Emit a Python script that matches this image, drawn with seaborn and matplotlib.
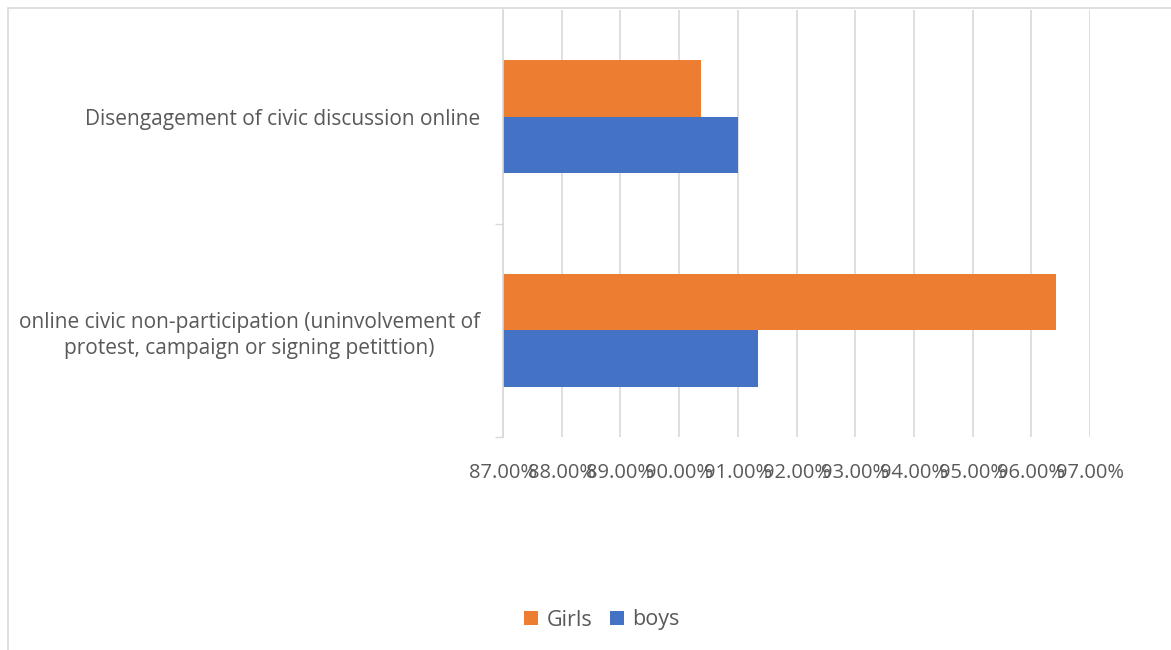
import matplotlib
matplotlib.use("Agg")
import matplotlib.pyplot as plt
import seaborn as sns
import pandas as pd
from matplotlib.patches import Rectangle, Patch
from matplotlib.ticker import FixedLocator

categories = [
    "Disengagement of civic discussion online",
    "online civic non-participation (uninvolvement of\nprotest, campaign or signing petittion)",
]
girls = [90.37, 96.42]
boys = [91.00, 91.34]
series = ["Girls", "boys"]
tick_values = [87, 88, 89, 90, 91, 92, 93, 94, 95, 96, 97]
tick_labels = [f"{v:.2f}%" for v in tick_values]

df = pd.DataFrame({
    "category": categories * 2,
    "value": girls + boys,
    "series": [series[0]] * 2 + [series[1]] * 2,
})

sns.set_theme(style="white")
plt.rcParams["font.family"] = ["Open Sans", "DejaVu Sans"]

text_color = "#595959"
grid_color = "#d9d9d9"
colors = {"Girls": "#ED7D31", "boys": "#4472C4"}

fig = plt.figure(figsize=(11.71, 6.5), dpi=100)
ax = fig.add_axes([503 / 1171, 1 - 437 / 650, (1090 - 503) / 1171, (437 - 10) / 650])

sns.barplot(data=df, y="category", x="value", hue="series", order=categories,
            hue_order=series, palette=colors, orient="h", width=0.53,
            saturation=1, ax=ax, legend=False, edgecolor="none")

ax.set_xlim(87, 97)
ax.set_ylim(1.5, -0.5)
ax.set_xticks(tick_values)
ax.set_xticklabels(tick_labels, fontsize=14.5, color=text_color)
ax.tick_params(axis="x", length=0, pad=19)
ax.tick_params(axis="y", which="major", length=0, pad=16.5, labelsize=15, labelcolor=text_color)
ax.yaxis.set_minor_locator(FixedLocator([0.5, 1.5]))
ax.tick_params(axis="y", which="minor", length=5.5, width=1, color=grid_color, left=True)
for lbl in ax.get_yticklabels():
    lbl.set_multialignment("center")
    lbl.set_linespacing(1.3)
ax.set_xlabel("")
ax.set_ylabel("")
ax.grid(axis="x", color=grid_color, linewidth=1.2)
ax.set_axisbelow(True)
for s in ["top", "right", "bottom"]:
    ax.spines[s].set_visible(False)
ax.spines["left"].set_color(grid_color)
ax.spines["left"].set_linewidth(1.2)

handles = [Patch(facecolor=colors[s], edgecolor="none") for s in series]
fig.legend(handles, series, loc="center", bbox_to_anchor=(602 / 1171, 1 - 620 / 650),
           ncol=2, frameon=False, fontsize=15.5, labelcolor=text_color,
           handlelength=0.65, handleheight=0.65, handletextpad=0.4, columnspacing=0.8)

fig.patches.append(Rectangle((8 / 1171, -0.1), 1.2, 1 - 8 / 650 + 0.1,
                             transform=fig.transFigure, fill=False,
                             edgecolor=grid_color, linewidth=1.2))

fig.savefig("out.png", dpi=100)
